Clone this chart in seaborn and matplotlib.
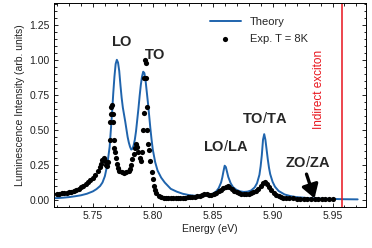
import numpy as np
import pandas as pd
import seaborn as sns
import matplotlib
matplotlib.use("Agg")
import matplotlib.pyplot as plt
from matplotlib.ticker import MultipleLocator

# theory curve (energy in eV, normalised intensity)
theory_energy = [5.715, 5.720, 5.725, 5.730, 5.735, 5.740, 5.745, 5.750, 5.753, 5.756,
                 5.758, 5.760, 5.762, 5.764, 5.765, 5.766, 5.767, 5.768, 5.769, 5.770,
                 5.771, 5.772, 5.773, 5.774, 5.775, 5.777, 5.779, 5.780, 5.781, 5.782,
                 5.783, 5.784, 5.785, 5.786, 5.787, 5.788, 5.789, 5.790, 5.791, 5.792,
                 5.793, 5.794, 5.795, 5.796, 5.797, 5.798, 5.799, 5.800, 5.802, 5.804,
                 5.807, 5.810, 5.815, 5.820, 5.825, 5.830, 5.835, 5.840, 5.845, 5.850,
                 5.853, 5.855, 5.857, 5.858, 5.859, 5.860, 5.861, 5.862, 5.863, 5.865,
                 5.867, 5.870, 5.873, 5.876, 5.879, 5.882, 5.885, 5.887, 5.889, 5.890,
                 5.891, 5.892, 5.893, 5.894, 5.895, 5.896, 5.897, 5.898, 5.900, 5.902,
                 5.905, 5.910, 5.915, 5.920, 5.930, 5.940, 5.950, 5.960, 5.971]
theory_intensity = [0.012, 0.014, 0.017, 0.021, 0.027, 0.034, 0.045, 0.062, 0.078, 0.100,
                    0.125, 0.170, 0.250, 0.380, 0.500, 0.620, 0.760, 0.880, 0.970, 1.000,
                    0.980, 0.920, 0.820, 0.730, 0.660, 0.560, 0.450, 0.410, 0.380, 0.360,
                    0.365, 0.390, 0.430, 0.490, 0.570, 0.650, 0.740, 0.820, 0.880, 0.915,
                    0.905, 0.850, 0.770, 0.690, 0.600, 0.510, 0.430, 0.360, 0.270, 0.210,
                    0.160, 0.125, 0.080, 0.060, 0.045, 0.036, 0.031, 0.030, 0.033, 0.045,
                    0.062, 0.085, 0.125, 0.160, 0.205, 0.245, 0.235, 0.200, 0.165, 0.120,
                    0.092, 0.072, 0.062, 0.058, 0.060, 0.068, 0.090, 0.120, 0.180, 0.240,
                    0.320, 0.430, 0.470, 0.430, 0.360, 0.290, 0.230, 0.185, 0.130, 0.095,
                    0.065, 0.040, 0.028, 0.021, 0.014, 0.010, 0.008, 0.006, 0.005]

# experiment, T = 8K
exp_energy = [5.720, 5.722, 5.724, 5.726, 5.728, 5.730, 5.732, 5.734, 5.736, 5.738,
              5.740, 5.742, 5.744, 5.746, 5.748, 5.750, 5.752, 5.754, 5.756, 5.757,
              5.758, 5.759, 5.760, 5.761, 5.762, 5.763, 5.764, 5.7645, 5.765, 5.7655,
              5.766, 5.7665, 5.767, 5.7675, 5.768, 5.7685, 5.769, 5.770, 5.771, 5.772,
              5.774, 5.776, 5.778, 5.780, 5.781, 5.782, 5.783, 5.784, 5.785, 5.786,
              5.787, 5.788, 5.789, 5.790, 5.791, 5.792, 5.7925, 5.793, 5.7935, 5.794,
              5.7945, 5.795, 5.7955, 5.796, 5.797, 5.798, 5.799, 5.800, 5.801, 5.802,
              5.803, 5.805, 5.807, 5.809, 5.811, 5.813, 5.815, 5.817, 5.819, 5.821,
              5.823, 5.825, 5.827, 5.829, 5.831, 5.833, 5.835, 5.837, 5.839, 5.841,
              5.843, 5.845, 5.847, 5.849, 5.851, 5.853, 5.855, 5.857, 5.859, 5.861,
              5.8625, 5.864, 5.866, 5.868, 5.870, 5.872, 5.874, 5.876, 5.878, 5.880,
              5.882, 5.884, 5.886, 5.888, 5.890, 5.892, 5.8935, 5.895, 5.897, 5.899,
              5.901, 5.903, 5.905, 5.907, 5.909, 5.911, 5.914, 5.917, 5.920, 5.923,
              5.926, 5.929, 5.932, 5.935, 5.938, 5.941, 5.944, 5.947, 5.950]
exp_intensity = [0.045, 0.046, 0.047, 0.048, 0.051, 0.055, 0.060, 0.066, 0.074, 0.082,
                 0.092, 0.103, 0.115, 0.128, 0.142, 0.160, 0.180, 0.205, 0.235, 0.260,
                 0.285, 0.300, 0.280, 0.250, 0.240, 0.270, 0.430, 0.560, 0.610, 0.660,
                 0.680, 0.610, 0.560, 0.430, 0.370, 0.340, 0.300, 0.260, 0.230, 0.210,
                 0.198, 0.195, 0.200, 0.210, 0.225, 0.250, 0.290, 0.330, 0.370, 0.400,
                 0.380, 0.340, 0.300, 0.280, 0.340, 0.500, 0.620, 0.870, 1.000, 0.980,
                 0.870, 0.660, 0.500, 0.400, 0.360, 0.280, 0.200, 0.150, 0.100, 0.070,
                 0.050, 0.030, 0.022, 0.018, 0.015, 0.013, 0.012, 0.012, 0.012, 0.013,
                 0.014, 0.015, 0.017, 0.019, 0.021, 0.023, 0.025, 0.028, 0.032, 0.037,
                 0.040, 0.040, 0.037, 0.036, 0.040, 0.050, 0.062, 0.075, 0.088, 0.096,
                 0.098, 0.092, 0.078, 0.066, 0.057, 0.050, 0.045, 0.042, 0.042, 0.044,
                 0.048, 0.055, 0.064, 0.080, 0.100, 0.120, 0.126, 0.118, 0.095, 0.070,
                 0.050, 0.036, 0.027, 0.021, 0.017, 0.015, 0.013, 0.012, 0.011, 0.010,
                 0.009, 0.008, 0.008, 0.007, 0.007, 0.006, 0.006, 0.005, 0.005]

indirect_exciton = 5.958

theory = pd.DataFrame({"energy": theory_energy, "intensity": theory_intensity})
expt = pd.DataFrame({"energy": exp_energy, "intensity": exp_intensity})

sns.set_style("ticks")
plt.rcParams["font.family"] = ["Liberation Sans", "DejaVu Sans"]
plt.rcParams["mathtext.fontset"] = "custom"
plt.rcParams["mathtext.rm"] = "Liberation Sans"
plt.rcParams["mathtext.bf"] = "Liberation Sans:bold"

fig = plt.figure(figsize=(3.72, 2.48), dpi=100)
ax = fig.add_axes([0.145, 0.165, 0.839, 0.823])

sns.lineplot(data=theory, x="energy", y="intensity", ax=ax, color="#1f64ad",
             lw=1.4, label="Theory")
sns.scatterplot(data=expt, x="energy", y="intensity", ax=ax, color="black",
                s=14, linewidth=0, label="Exp. T = 8K", zorder=3)
ax.axvline(indirect_exciton, color="#e8141c", lw=1.1)

ax.set_xlim(5.7175, 5.978)
ax.set_ylim(-0.05, 1.405)
ax.xaxis.set_major_locator(MultipleLocator(0.05))
ax.xaxis.set_minor_locator(MultipleLocator(0.01))
ax.yaxis.set_major_locator(MultipleLocator(0.25))
ax.yaxis.set_minor_locator(MultipleLocator(0.05))
ax.xaxis.set_major_formatter(matplotlib.ticker.FormatStrFormatter("%.2f"))
ax.yaxis.set_major_formatter(matplotlib.ticker.FormatStrFormatter("%.2f"))
ax.tick_params(which="both", direction="in", top=True, right=True, labelsize=7.5,
               width=0.6, pad=3, color="black", labelcolor="#222222")
ax.tick_params(which="major", length=3)
ax.tick_params(which="minor", length=1.8)
for s in ax.spines.values():
    s.set_linewidth(0.7)
    s.set_color("black")

ax.set_xlabel("Energy (eV)", fontsize=7.5, labelpad=2, color="#222222")
ax.set_ylabel("Luminescence Intensity (arb. units)", fontsize=7.5, labelpad=3, color="#222222")

lab = dict(fontsize=10.5, ha="center", va="center")
ax.text(5.774, 1.13, r"$\mathbf{LO}$", **lab)
ax.text(5.8017, 1.035, r"$\mathbf{TO}$", **lab)
ax.text(5.8605, 0.38, r"$\mathbf{LO}/\mathbf{LA}$", **lab)
ax.text(5.8933, 0.58, r"$\mathbf{TO}/\mathbf{TA}$", **lab)
ax.text(5.9295, 0.27, r"$\mathbf{ZO}/\mathbf{ZA}$", **lab)
ax.annotate("", xy=(5.9350, 0.012), xytext=(5.9283, 0.185),
            arrowprops=dict(arrowstyle="-|>,head_length=0.8,head_width=0.5",
                            mutation_scale=10, shrinkA=0, shrinkB=0,
                            color="black", lw=2.4))
ax.text(5.9385, 0.79, "Indirect exciton", color="#e8141c", fontsize=8.5,
        rotation=90, ha="center", va="center")

ax.legend(loc="upper left", bbox_to_anchor=(0.47, 0.975), frameon=False, fontsize=8,
          handlelength=2.8, handletextpad=0.8, borderaxespad=0.4, labelspacing=0.6,
          markerscale=1.0)

fig.savefig("out.png", dpi=100)
